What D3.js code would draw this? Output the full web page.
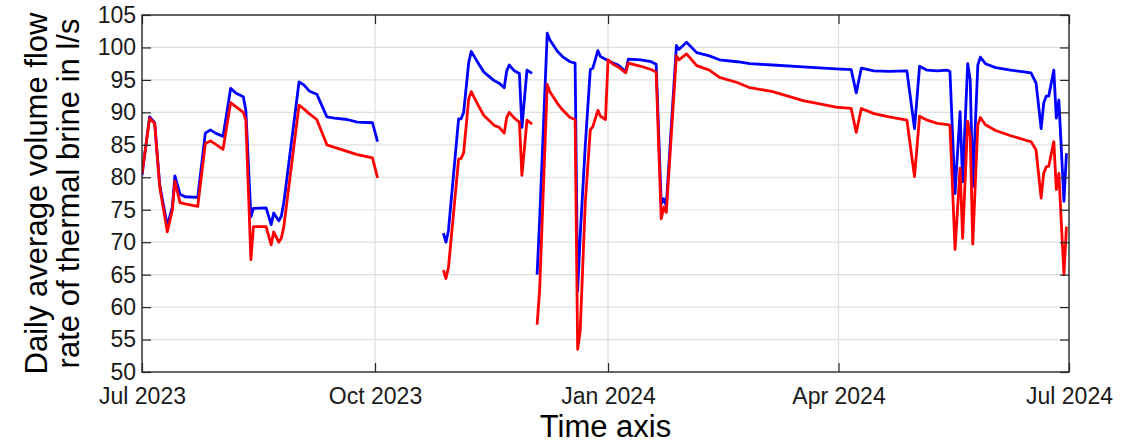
<!DOCTYPE html>
<html>
<head>
<meta charset="utf-8">
<script src="https://cdn.jsdelivr.net/npm/d3@7"></script>
<style>
  html, body { margin: 0; padding: 0; background: #ffffff; }
  svg { display: block; font-family: "Liberation Sans", Arial, Helvetica, sans-serif; }
</style>
</head>
<body>
<svg id="chart" width="1136" height="443"></svg>
<script>
// ---- data ----
const dates = [
"2023-07-01","2023-07-04","2023-07-06","2023-07-08","2023-07-11","2023-07-13","2023-07-14","2023-07-16","2023-07-18","2023-07-23",
"2023-07-26","2023-07-28","2023-07-30","2023-08-02","2023-08-05","2023-08-07","2023-08-10","2023-08-11","2023-08-13","2023-08-14",
"2023-08-19","2023-08-21","2023-08-22","2023-08-24","2023-08-25","2023-08-26","2023-09-01","2023-09-03","2023-09-05","2023-09-08",
"2023-09-12","2023-09-15","2023-09-20","2023-09-24","2023-09-30","2023-10-02","2023-10-15",
"2023-10-28","2023-10-29","2023-10-30","2023-11-03","2023-11-04","2023-11-05","2023-11-07","2023-11-08","2023-11-11","2023-11-13",
"2023-11-17","2023-11-19","2023-11-21","2023-11-22","2023-11-23","2023-11-25","2023-11-27","2023-11-28","2023-11-30","2023-12-02","2023-12-03",
"2023-12-04","2023-12-05","2023-12-08","2023-12-09","2023-12-12","2023-12-14","2023-12-17","2023-12-19","2023-12-20","2023-12-21",
"2023-12-23","2023-12-25","2023-12-26","2023-12-28","2023-12-29","2023-12-31","2024-01-01","2024-01-03","2024-01-05","2024-01-08",
"2024-01-09","2024-01-14","2024-01-18","2024-01-20","2024-01-22","2024-01-23","2024-01-24","2024-01-28","2024-01-29","2024-02-01",
"2024-02-05","2024-02-10","2024-02-14","2024-02-21","2024-02-26","2024-03-06","2024-03-18","2024-03-31","2024-04-06","2024-04-08",
"2024-04-10","2024-04-15","2024-04-21","2024-04-28","2024-05-01","2024-05-03","2024-05-06","2024-05-10","2024-05-14","2024-05-15",
"2024-05-17","2024-05-19","2024-05-20","2024-05-22","2024-05-23","2024-05-24","2024-05-26","2024-05-27","2024-05-29","2024-06-02",
"2024-06-08","2024-06-14","2024-06-16","2024-06-18","2024-06-20","2024-06-21","2024-06-22","2024-06-23","2024-06-25","2024-06-26",
"2024-06-27","2024-06-29","2024-06-30"
];

const blueSeries = [
80.3, 89.3, 88.4, 78.8, 72.5, 75.5, 80.2, 77.4, 77.0, 76.9,
86.8, 87.3, 86.8, 86.3, 93.7, 93.0, 92.4, 90.3, 73.9, 75.2,
75.3, 72.7, 74.5, 73.3, 74.0, 76.1, 94.7, 94.2, 93.3, 92.8,
89.3, 89.1, 88.9, 88.5, 88.4, 85.5, null,
71.4, 70.0, 71.8, 89.0, 89.0, 90.0, 97.7, 99.4, 97.4, 96.2,
94.9, 94.5, 93.8, 96.4, 97.3, 96.4, 96.0, 87.7, 96.5, 96.0, null,
65.0, 73.5, 102.2, 101.2, 99.4, 98.6, 97.8, 97.6, 62.5, 70.9,
84.8, 96.6, 96.8, 99.5, 98.6, 98.2, 98.0, 97.6, 97.3, 96.3,
98.2, 98.1, 97.8, 97.4, 75.9, 76.7, 75.6, 100.3, 99.7, 100.8,
99.2, 98.7, 98.1, 97.8, 97.5, 97.3, 97.0, 96.7, 96.6, 93.0,
96.8, 96.4, 96.3, 96.4, 87.5, 97.1, 96.5, 96.4, 96.5, 96.3,
77.5, 90.1, 79.3, 97.5, 95.0, 78.6, 97.3, 98.5, 97.5, 96.9,
96.5, 96.2, 96.1, 94.5, 87.5, 91.4, 92.5, 92.5, 96.5, 89.1,
91.9, 76.3, 83.7
];

const redSeries = [
80.5, 89.1, 88.3, 78.5, 71.6, 75.0, 79.4, 76.1, 75.9, 75.5,
85.2, 85.6, 85.1, 84.3, 91.5, 90.9, 90.0, 88.8, 67.3, 72.4,
72.4, 69.6, 71.6, 70.0, 70.6, 72.4, 91.1, 90.5, 89.8, 88.9,
85.0, 84.6, 84.0, 83.5, 83.0, 79.9, null,
65.7, 64.4, 66.1, 82.8, 82.9, 83.8, 92.1, 93.2, 90.9, 89.5,
88.0, 87.7, 86.8, 89.2, 90.0, 89.1, 88.5, 80.3, 88.8, 88.2, null,
57.3, 62.7, 94.3, 93.2, 91.4, 90.4, 89.2, 88.9, 53.5, 56.3,
76.0, 87.3, 87.8, 90.3, 89.4, 88.9, 98.1, 97.4, 97.0, 96.1,
97.6, 97.1, 96.6, 96.2, 73.6, 75.4, 74.6, 98.7, 98.1, 99.0,
97.2, 96.5, 95.4, 94.6, 93.8, 93.2, 91.8, 90.8, 90.6, 86.9,
90.6, 89.8, 89.3, 88.8, 80.1, 89.4, 88.8, 88.3, 88.1, 88.0,
68.9, 81.4, 70.6, 88.6, 86.3, 69.7, 88.1, 89.2, 88.1, 87.2,
86.4, 85.7, 85.5, 84.2, 76.8, 80.6, 81.6, 81.7, 85.5, 78.1,
80.6, 65.0, 72.4
];

const xTickDates = ["2023-07-01","2023-10-01","2024-01-01","2024-04-01","2024-07-01"];
const xTickLabels = ["Jul 2023","Oct 2023","Jan 2024","Apr 2024","Jul 2024"];
const yTicks = [50,55,60,65,70,75,80,85,90,95,100,105];
const xDomain = ["2023-07-01","2024-07-01"];
const yDomain = [50,105];

// ---- layout ----
const parse = d3.utcParse("%Y-%m-%d");
const L = 142, R = 1069, T = 15, B = 372;
const svg = d3.select("#chart");

const x = d3.scaleUtc().domain(xDomain.map(parse)).range([L, R]);
const y = d3.scaleLinear().domain(yDomain).range([B, T]);

const axisColor = "#262626";
const gridColor = "#dfdfdf";

// grid
const grid = svg.append("g");
grid.selectAll("line.hg").data(yTicks.slice(1, -1)).join("line")
  .attr("x1", L).attr("x2", R)
  .attr("y1", d => y(d)).attr("y2", d => y(d))
  .attr("stroke", gridColor).attr("stroke-width", 1.2);
grid.selectAll("line.vg").data(xTickDates.slice(1, -1)).join("line")
  .attr("x1", d => x(parse(d))).attr("x2", d => x(parse(d)))
  .attr("y1", T).attr("y2", B)
  .attr("stroke", gridColor).attr("stroke-width", 1.2);

// series
svg.append("clipPath").attr("id", "clip").append("rect")
  .attr("x", L).attr("y", T).attr("width", R - L).attr("height", B - T);

const rows = dates.map((d, i) => ({ date: parse(d), blue: blueSeries[i], red: redSeries[i] }));

const mkLine = key => d3.line()
  .defined(d => d[key] !== null)
  .x(d => x(d.date))
  .y(d => y(d[key]));

const plot = svg.append("g").attr("clip-path", "url(#clip)");
plot.append("path").datum(rows).attr("d", mkLine("blue"))
  .attr("fill", "none").attr("stroke", "#0000ff").attr("stroke-width", 2.8)
  .attr("stroke-linejoin", "round");
plot.append("path").datum(rows).attr("d", mkLine("red"))
  .attr("fill", "none").attr("stroke", "#ff0000").attr("stroke-width", 2.8)
  .attr("stroke-linejoin", "round");

// axes (ticks inward, MATLAB style)
const tickDates = xTickDates.map(parse);

const xAxis = d3.axisBottom(x).tickValues(tickDates)
  .tickSizeInner(-9).tickSizeOuter(0).tickPadding(16)
  .tickFormat((d, i) => xTickLabels[i]);
const gx = svg.append("g").attr("transform", `translate(0,${B})`).call(xAxis);

const xAxisTop = d3.axisTop(x).tickValues(tickDates)
  .tickSizeInner(-9).tickSizeOuter(0).tickFormat("");
const gxt = svg.append("g").attr("transform", `translate(0,${T})`).call(xAxisTop);

const yAxis = d3.axisLeft(y).tickValues(yTicks)
  .tickSizeInner(-9).tickSizeOuter(0).tickPadding(5);
const gy = svg.append("g").attr("transform", `translate(${L},0)`).call(yAxis);

const yAxisRight = d3.axisRight(y).tickValues(yTicks)
  .tickSizeInner(-9).tickSizeOuter(0).tickFormat("");
const gyr = svg.append("g").attr("transform", `translate(${R},0)`).call(yAxisRight);

[gx, gxt, gy, gyr].forEach(g => {
  g.select(".domain").remove();
  g.selectAll(".tick line").attr("stroke", axisColor).attr("stroke-width", 1.2);
  g.selectAll(".tick text").attr("fill", "#1a1a1a").attr("font-size", 23)
    .attr("font-family", "'Liberation Sans', Arial, sans-serif");
});
gy.selectAll(".tick text").attr("dx", "-1");

// frame
svg.append("rect").attr("x", L).attr("y", T).attr("width", R - L).attr("height", B - T)
  .attr("fill", "none").attr("stroke", axisColor).attr("stroke-width", 1.4);

// axis labels
svg.append("text")
  .attr("x", (L + R) / 2).attr("y", 437)
  .attr("text-anchor", "middle").attr("font-size", 31).attr("fill", "#000")
  .text("Time axis");

const yl = svg.append("g").attr("transform", `translate(0,${(T + B) / 2}) rotate(-90)`);
yl.append("text").attr("x", 0).attr("y", 47)
  .attr("text-anchor", "middle").attr("font-size", 31).attr("fill", "#000")
  .text("Daily average volume flow");
yl.append("text").attr("x", 0).attr("y", 79)
  .attr("text-anchor", "middle").attr("font-size", 31).attr("fill", "#000")
  .text("rate of thermal brine in l/s");
</script>
</body>
</html>
